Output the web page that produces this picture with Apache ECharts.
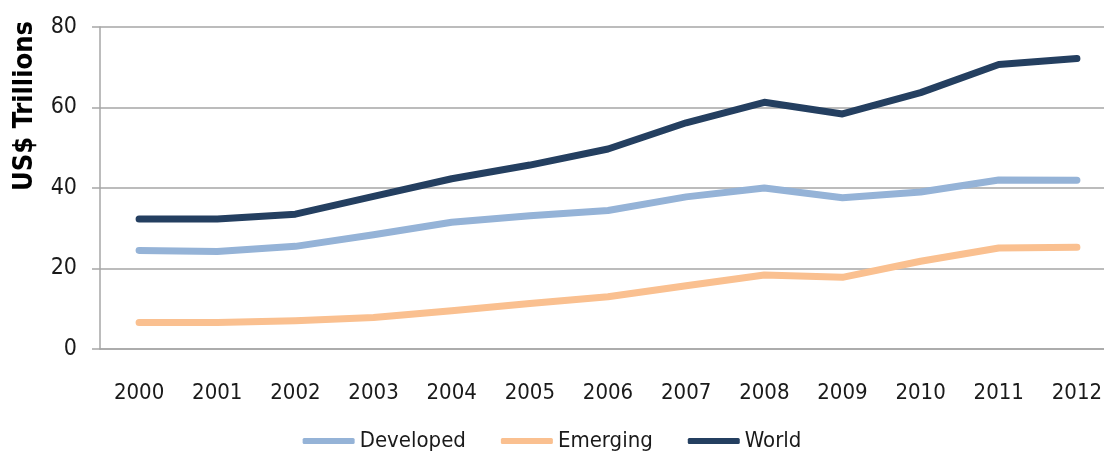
<!DOCTYPE html>
<html>
<head>
<meta charset="utf-8">
<script src="https://cdn.jsdelivr.net/npm/echarts@6/dist/echarts.min.js"></script>
<style>
  html, body { margin: 0; padding: 0; background: #fff; }
  #chart { width: 1104px; height: 452px; }
</style>
</head>
<body>
<div id="chart"></div>
<script>
// data
const years = ['2000', '2001', '2002', '2003', '2004', '2005', '2006', '2007', '2008', '2009', '2010', '2011', '2012'];
const developed = [24.5, 24.2, 25.5, 28.4, 31.5, 33.1, 34.4, 37.8, 40.0, 37.6, 39.0, 42.0, 41.9];
const emerging = [6.6, 6.6, 7.0, 7.8, 9.5, 11.3, 13.0, 15.7, 18.4, 17.8, 21.8, 25.1, 25.3];
const world = [32.3, 32.3, 33.5, 37.9, 42.3, 45.7, 49.7, 56.2, 61.3, 58.4, 63.7, 70.7, 72.2];

const narrow = "'DejaVu Sans Condensed', 'Liberation Sans Narrow', sans-serif";
const gridGray = '#a6a6a6';

function line(name, data, color) {
  return {
    name: name,
    type: 'line',
    data: data,
    symbol: 'none',
    lineStyle: { width: 7, color: color, cap: 'round', join: 'round' },
    itemStyle: { color: color }
  };
}

const chart = echarts.init(document.getElementById('chart'));
chart.setOption({
  animation: false,
  // plot runs past the right edge of the picture, like the cropped original
  grid: { left: 100, right: -12, top: 27, bottom: 103, outerBoundsMode: 'none' },
  graphic: [{
    type: 'text',
    x: 25, y: 106,
    rotation: Math.PI / 2,
    style: {
      text: 'US$ Trillions',
      font: "bold 27px 'DejaVu Sans Condensed', 'Liberation Sans', sans-serif",
      fill: '#000',
      align: 'center',
      verticalAlign: 'middle'
    }
  }],
  legend: {
    left: 'center',
    top: 425,
    itemWidth: 52,
    itemHeight: 6,
    itemGap: 35,
    icon: 'roundRect',
    textStyle: { fontFamily: narrow, fontSize: 22, color: '#1a1a1a' },
    data: ['Developed', 'Emerging', 'World']
  },
  xAxis: {
    type: 'category',
    data: years,
    boundaryGap: true,
    axisLine: { lineStyle: { color: gridGray, width: 1.5 } },
    axisTick: { alignWithLabel: true, interval: 0, length: 7, lineStyle: { color: gridGray, width: 1.5 } },
    axisLabel: { interval: 0, fontFamily: narrow, fontSize: 22, color: '#1a1a1a', margin: 33 }
  },
  yAxis: {
    type: 'value',
    min: 0, max: 80, interval: 20,
    axisLine: { show: true, lineStyle: { color: gridGray, width: 1.5 } },
    axisTick: { show: true, length: 8, lineStyle: { color: gridGray, width: 1.5 } },
    splitLine: { lineStyle: { color: gridGray, width: 1.5 } },
    axisLabel: { fontFamily: narrow, fontSize: 23, color: '#1a1a1a', margin: 23 }
  },
  series: [
    line('Developed', developed, '#95b3d7'),
    line('Emerging', emerging, '#fac090'),
    line('World', world, '#243f60')
  ]
});
</script>
</body>
</html>
